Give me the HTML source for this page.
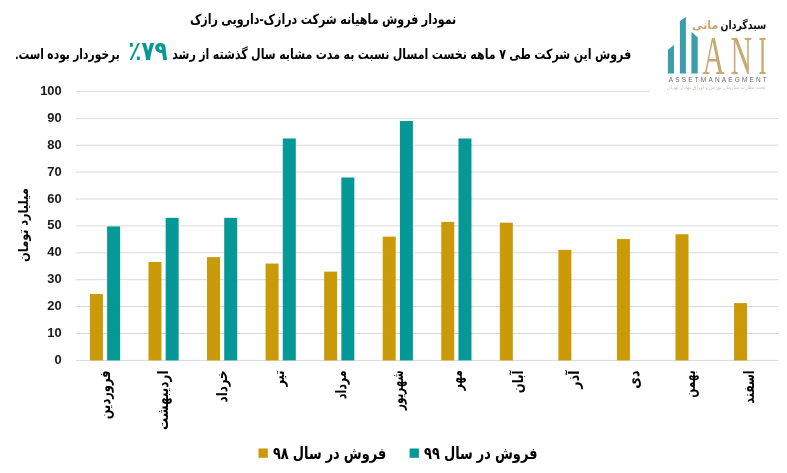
<!DOCTYPE html>
<html lang="fa"><head><meta charset="utf-8"><title>نمودار فروش ماهیانه</title>
<style>html,body{margin:0;padding:0;background:#fff;}body{width:787px;height:473px;overflow:hidden;}svg{display:block;}.fa{font-family:"Liberation Sans","DejaVu Sans Condensed","DejaVu Sans",sans-serif;font-weight:bold;direction:rtl;unicode-bidi:embed;}.num{font-family:"Liberation Sans",sans-serif;font-weight:bold;font-size:12px;fill:#1a1a1a;}</style></head><body>
<svg width="787" height="473" viewBox="0 0 787 473">
<rect width="787" height="473" fill="#ffffff"/>
<line x1="75.7" x2="778.3" y1="360.40" y2="360.40" stroke="#d9d9d9" stroke-width="1"/>
<text class="num" x="61.75" y="363.90" text-anchor="end" textLength="7.2" lengthAdjust="spacingAndGlyphs">0</text>
<line x1="75.7" x2="778.3" y1="333.50" y2="333.50" stroke="#d9d9d9" stroke-width="1"/>
<text class="num" x="61.75" y="337.00" text-anchor="end" textLength="14.4" lengthAdjust="spacingAndGlyphs">10</text>
<line x1="75.7" x2="778.3" y1="306.60" y2="306.60" stroke="#d9d9d9" stroke-width="1"/>
<text class="num" x="61.75" y="310.10" text-anchor="end" textLength="14.4" lengthAdjust="spacingAndGlyphs">20</text>
<line x1="75.7" x2="778.3" y1="279.70" y2="279.70" stroke="#d9d9d9" stroke-width="1"/>
<text class="num" x="61.75" y="283.20" text-anchor="end" textLength="14.4" lengthAdjust="spacingAndGlyphs">30</text>
<line x1="75.7" x2="778.3" y1="252.80" y2="252.80" stroke="#d9d9d9" stroke-width="1"/>
<text class="num" x="61.75" y="256.30" text-anchor="end" textLength="14.4" lengthAdjust="spacingAndGlyphs">40</text>
<line x1="75.7" x2="778.3" y1="225.90" y2="225.90" stroke="#d9d9d9" stroke-width="1"/>
<text class="num" x="61.75" y="229.40" text-anchor="end" textLength="14.4" lengthAdjust="spacingAndGlyphs">50</text>
<line x1="75.7" x2="778.3" y1="199.00" y2="199.00" stroke="#d9d9d9" stroke-width="1"/>
<text class="num" x="61.75" y="202.50" text-anchor="end" textLength="14.4" lengthAdjust="spacingAndGlyphs">60</text>
<line x1="75.7" x2="778.3" y1="172.10" y2="172.10" stroke="#d9d9d9" stroke-width="1"/>
<text class="num" x="61.75" y="175.60" text-anchor="end" textLength="14.4" lengthAdjust="spacingAndGlyphs">70</text>
<line x1="75.7" x2="778.3" y1="145.20" y2="145.20" stroke="#d9d9d9" stroke-width="1"/>
<text class="num" x="61.75" y="148.70" text-anchor="end" textLength="14.4" lengthAdjust="spacingAndGlyphs">80</text>
<line x1="75.7" x2="778.3" y1="118.30" y2="118.30" stroke="#d9d9d9" stroke-width="1"/>
<text class="num" x="61.75" y="121.80" text-anchor="end" textLength="14.4" lengthAdjust="spacingAndGlyphs">90</text>
<line x1="75.7" x2="778.3" y1="91.40" y2="91.40" stroke="#d9d9d9" stroke-width="1"/>
<text class="num" x="61.75" y="94.90" text-anchor="end" textLength="21.6" lengthAdjust="spacingAndGlyphs">100</text>
<rect x="89.90" y="293.96" width="13.0" height="66.44" fill="#ca9a08"/>
<rect x="107.10" y="226.44" width="13.0" height="133.96" fill="#059896"/>
<rect x="148.46" y="261.95" width="13.0" height="98.45" fill="#ca9a08"/>
<rect x="165.66" y="217.83" width="13.0" height="142.57" fill="#059896"/>
<rect x="207.02" y="257.10" width="13.0" height="103.30" fill="#ca9a08"/>
<rect x="224.22" y="217.83" width="13.0" height="142.57" fill="#059896"/>
<rect x="265.58" y="263.56" width="13.0" height="96.84" fill="#ca9a08"/>
<rect x="282.78" y="138.47" width="13.0" height="221.92" fill="#059896"/>
<rect x="324.14" y="271.63" width="13.0" height="88.77" fill="#ca9a08"/>
<rect x="341.34" y="177.48" width="13.0" height="182.92" fill="#059896"/>
<rect x="382.70" y="236.66" width="13.0" height="123.74" fill="#ca9a08"/>
<rect x="399.90" y="120.99" width="13.0" height="239.41" fill="#059896"/>
<rect x="441.26" y="221.86" width="13.0" height="138.53" fill="#ca9a08"/>
<rect x="458.46" y="138.47" width="13.0" height="221.92" fill="#059896"/>
<rect x="499.82" y="222.67" width="13.0" height="137.73" fill="#ca9a08"/>
<rect x="558.38" y="249.84" width="13.0" height="110.56" fill="#ca9a08"/>
<rect x="616.94" y="239.08" width="13.0" height="121.32" fill="#ca9a08"/>
<rect x="675.50" y="234.24" width="13.0" height="126.16" fill="#ca9a08"/>
<rect x="734.06" y="303.10" width="13.0" height="57.30" fill="#ca9a08"/>
<text class="fa" font-size="15" fill="#000" transform="translate(109.9,370.4) rotate(-90)" x="0" y="0" text-anchor="start" textLength="48.8" lengthAdjust="spacingAndGlyphs">فروردین</text>
<text class="fa" font-size="15" fill="#000" transform="translate(167.5,370.4) rotate(-90)" x="0" y="0" text-anchor="start" textLength="59.6" lengthAdjust="spacingAndGlyphs">اردیبهشت</text>
<text class="fa" font-size="15" fill="#000" transform="translate(227.3,370.4) rotate(-90)" x="0" y="0" text-anchor="start" textLength="32" lengthAdjust="spacingAndGlyphs">خرداد</text>
<text class="fa" font-size="15" fill="#000" transform="translate(284.4,370.4) rotate(-90)" x="0" y="0" text-anchor="start" textLength="16.1" lengthAdjust="spacingAndGlyphs">تیر</text>
<text class="fa" font-size="15" fill="#000" transform="translate(345.7,370.4) rotate(-90)" x="0" y="0" text-anchor="start" textLength="28.9" lengthAdjust="spacingAndGlyphs">مرداد</text>
<text class="fa" font-size="15" fill="#000" transform="translate(402.5,370.4) rotate(-90)" x="0" y="0" text-anchor="start" textLength="39.6" lengthAdjust="spacingAndGlyphs">شهریور</text>
<text class="fa" font-size="15" fill="#000" transform="translate(461.6,370.4) rotate(-90)" x="0" y="0" text-anchor="start" textLength="19.8" lengthAdjust="spacingAndGlyphs">مهر</text>
<text class="fa" font-size="15" fill="#000" transform="translate(523.0,370.4) rotate(-90)" x="0" y="0" text-anchor="start" textLength="22.8" lengthAdjust="spacingAndGlyphs">آبان</text>
<text class="fa" font-size="15" fill="#000" transform="translate(578.8,370.4) rotate(-90)" x="0" y="0" text-anchor="start" textLength="18.3" lengthAdjust="spacingAndGlyphs">آذر</text>
<text class="fa" font-size="15" fill="#000" transform="translate(638.9,370.4) rotate(-90)" x="0" y="0" text-anchor="start" textLength="18.3" lengthAdjust="spacingAndGlyphs">دی</text>
<text class="fa" font-size="15" fill="#000" transform="translate(695.4,370.4) rotate(-90)" x="0" y="0" text-anchor="start" textLength="27.3" lengthAdjust="spacingAndGlyphs">بهمن</text>
<text class="fa" font-size="15" fill="#000" transform="translate(754.3,370.4) rotate(-90)" x="0" y="0" text-anchor="start" textLength="33.3" lengthAdjust="spacingAndGlyphs">اسفند</text>
<text class="fa" font-size="13.5" fill="#000" transform="translate(28,188.1) rotate(-90)" text-anchor="start" textLength="73.8" lengthAdjust="spacingAndGlyphs">میلیارد تومان</text>
<text class="fa" font-size="14" fill="#000" x="456.3" y="24" text-anchor="start" textLength="266.4" lengthAdjust="spacingAndGlyphs">نمودار فروش ماهیانه شرکت درازک-دارویی رازک</text>
<text class="fa" font-size="14" fill="#000" x="631.2" y="59.4" text-anchor="start" textLength="459" lengthAdjust="spacingAndGlyphs">فروش این شرکت طی ۷ ماهه نخست امسال نسبت به مدت مشابه سال گذشته از رشد</text>
<text class="fa" font-size="26.5" fill="#059896" x="167.7" y="60.3" text-anchor="start" textLength="39.4" lengthAdjust="spacingAndGlyphs">٪۷۹</text>
<text class="fa" font-size="14" fill="#000" x="119.8" y="59.4" text-anchor="start" textLength="104.6" lengthAdjust="spacingAndGlyphs">برخوردار بوده است.</text>
<rect x="258.5" y="448.5" width="9.3" height="9.3" fill="#ca9a08"/>
<text class="fa" font-size="16.5" fill="#000" x="386.3" y="459" text-anchor="start" textLength="113.4" lengthAdjust="spacingAndGlyphs">فروش در سال ۹۸</text>
<rect x="409.6" y="448.5" width="9.3" height="9.3" fill="#059896"/>
<text class="fa" font-size="16.5" fill="#000" x="537.5" y="459" text-anchor="start" textLength="113.4" lengthAdjust="spacingAndGlyphs">فروش در سال ۹۹</text>
<rect x="649.5" y="0" width="137.5" height="104" fill="#fff"/>
<polygon points="667.9,50.1 674,44.8 674,73.4 667.9,73.4" fill="#3a9fab"/>
<polygon points="679.9,20.9 685.9,17 685.9,73.4 679.9,73.4" fill="#3a9fab"/>
<polygon points="691.4,32.1 697.7,37.2 697.7,73.4 691.4,73.4" fill="#3a9fab"/>
<g font-family="'Liberation Serif',serif" font-size="55" fill="#c9a872">
<text x="702.4" y="73.6" textLength="22.2" lengthAdjust="spacingAndGlyphs">A</text>
<text x="730.5" y="73.6" textLength="21.4" lengthAdjust="spacingAndGlyphs">N</text>
<text x="758.6" y="73.6" textLength="8.1" lengthAdjust="spacingAndGlyphs">I</text>
</g>
<text class="fa" font-size="11.5" fill="#111" x="766.2" y="29.2" text-anchor="start" textLength="45.7" lengthAdjust="spacingAndGlyphs">سبدگردان</text>
<text class="fa" font-size="11.5" fill="#c9a872" x="718.2" y="29.2" text-anchor="start" textLength="26.1" lengthAdjust="spacingAndGlyphs">مانی</text>
<text font-family="'Liberation Sans',sans-serif" font-size="6.5" fill="#666c78" x="668.8" y="82" textLength="98" lengthAdjust="spacing">ASSETMANAEGMENT</text>
<text class="fa" style="font-weight:normal" font-size="5" fill="#cdbda2" x="765.5" y="88.8" text-anchor="start" textLength="98.5" lengthAdjust="spacingAndGlyphs">تحت نظارت سازمان بورس و اوراق بهادار تهران</text>
</svg></body></html>
